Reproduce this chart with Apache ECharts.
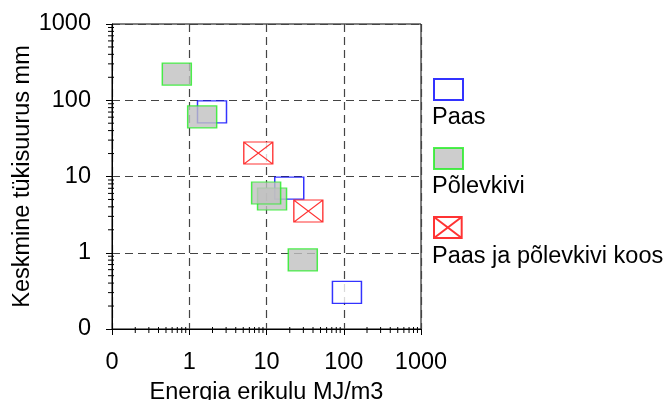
<!DOCTYPE html>
<html>
<head>
<meta charset="utf-8">
<script src="https://cdn.jsdelivr.net/npm/echarts@6/dist/echarts.min.js"></script>
<style>html,body{margin:0;padding:0;background:#fff}#c{width:669px;height:400px}</style>
</head>
<body>
<div id="c"></div>
<script>
// Data (Energia erikulu MJ/m3, Keskmine tükisuurus mm)
const seriesNames = ['Paas', 'Põlevkivi', 'Paas ja põlevkivi koos'];
const paas = [[1.97, 70.5], [19.7, 7.05], [110, 0.302]];
const polevkivi = [[0.69, 220], [1.47, 60.6], [11.8, 5.06], [9.89, 6.08], [29.5, 0.805]];
const koos = [[7.83, 20.3], [34.8, 3.52]];
const tickLabels = {'0.1': '0', '1': '1', '10': '10', '100': '100', '1000': '1000'};
const decades = [0.1, 1, 10, 100];
const minorMult = [2, 3, 4, 5, 6, 7, 8, 9];
const xTitle = 'Energia erikulu MJ/m3';
const yTitle = 'Keskmine tükisuurus mm';

const FONT = "'Liberation Sans', Arial, sans-serif";
const FS = 23.5;
const minorVals = [];
decades.forEach(d => minorMult.forEach(m => minorVals.push(+(d * m).toPrecision(3))));

function fmt(v) {
  const key = String(+Number(v).toPrecision(3));
  return tickLabels[key] !== undefined ? tickLabels[key] : key;
}

const chart = echarts.init(document.getElementById('c'), null, {renderer: 'canvas'});
const splitStyle = {show: true, lineStyle: {color: '#444', width: 1.2, type: [8, 5]}};
const axisBase = {
  type: 'log', logBase: 10, min: 0.1, max: 1000,
  axisLine: {show: true, onZero: false, lineStyle: {color: '#000', width: 1}},
  axisTick: {show: true, length: 6, lineStyle: {color: '#000', width: 1}},
  splitLine: splitStyle,
  nameLocation: 'middle',
  nameTextStyle: {fontFamily: FONT, fontSize: FS, color: '#000'}
};

const xMinorSeries = {
  type: 'custom', name: 'xMinor', silent: true, z: 5,
  data: minorVals.map(v => [v, 0.1]),
  renderItem: function (params, api) {
    const p = api.coord([api.value(0), api.value(1)]);
    const yb = params.coordSys.y + params.coordSys.height;
    return {type: 'line', shape: {x1: p[0], y1: yb - 2, x2: p[0], y2: yb + 4},
      style: {stroke: '#000', lineWidth: 1}};
  }
};
const yMinorSeries = {
  type: 'custom', name: 'yMinor', silent: true, z: 5,
  data: minorVals.map(v => [0.1, v]),
  renderItem: function (params, api) {
    const p = api.coord([api.value(0), api.value(1)]);
    const xl = params.coordSys.x;
    return {type: 'line', shape: {x1: xl - 4, y1: p[1], x2: xl + 2, y2: p[1]},
      style: {stroke: '#000', lineWidth: 1}};
  }
};

const xPath = 'path://M0,0L29,0L29,22L0,22ZM0,0L29,22M29,0L0,22';

const option = {
  animation: false,
  backgroundColor: '#fff',
  textStyle: {fontFamily: FONT},
  grid: {left: 112, top: 24, width: 309, height: 305, containLabel: false, outerBoundsMode: 'none',
    show: true, borderColor: '#000', borderWidth: 1, backgroundColor: 'transparent'},
  xAxis: Object.assign({}, axisBase, {
    name: xTitle, nameGap: 52,
    axisLabel: {formatter: fmt, margin: 22, fontFamily: FONT, fontSize: FS, color: '#000'}
  }),
  yAxis: Object.assign({}, axisBase, {
    name: yTitle, nameGap: 75,
    axisLabel: {formatter: fmt, margin: 21, fontFamily: FONT, fontSize: FS, color: '#000'}
  }),
  legend: [0, 1, 2].map(i => ({
    data: [seriesNames[i]], left: 433, top: [78, 147, 216][i],
    itemWidth: 29, itemHeight: 21, padding: 0,
    formatter: function () { return ''; },
    selectedMode: false
  })),
  graphic: [0, 1, 2].map(i => ({
    type: 'text', left: 432, top: [118, 187, 257][i] - 12,
    style: {text: seriesNames[i], font: FS + 'px ' + FONT, fill: '#000'}
  })),
  series: [
    {
      type: 'scatter', name: seriesNames[0], data: paas, z: 2,
      symbol: 'rect', symbolSize: [29, 22],
      itemStyle: {color: '#fff', borderColor: '#0000ff', borderWidth: 1.3}
    },
    {
      type: 'scatter', name: seriesNames[1], data: polevkivi, z: 3,
      symbol: 'rect', symbolSize: [29, 22],
      itemStyle: {color: '#c0c0c0', borderColor: '#22ee22', borderWidth: 1.3}
    },
    {
      type: 'scatter', name: seriesNames[2], data: koos, z: 4,
      symbol: xPath, symbolSize: [29, 22],
      itemStyle: {color: '#fff', borderColor: '#ff0000', borderWidth: 1.2}
    },
    xMinorSeries, yMinorSeries
  ]
};
chart.setOption(option);
</script>
</body>
</html>
